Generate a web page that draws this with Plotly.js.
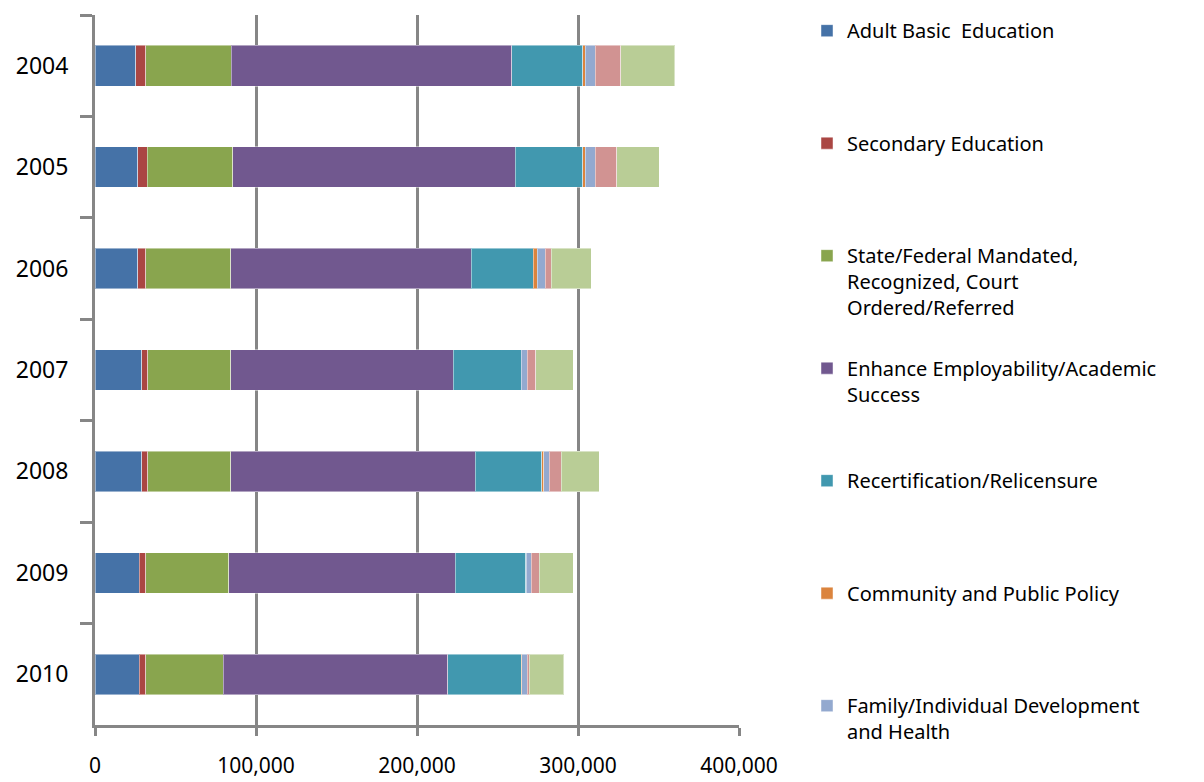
<!DOCTYPE html>
<html>
<head>
<meta charset="utf-8">
<script src="https://cdn.plot.ly/plotly-3.0.1.min.js"></script>
<style>html,body{margin:0;padding:0;background:#fff;}#chart{width:1204px;height:782px;}</style>
</head>
<body>
<div id="chart"></div>
<script>
const years = ["2004","2005","2006","2007","2008","2009","2010"];
const seriesNames = [
  "Adult Basic  Education",
  "Secondary Education",
  "State/Federal Mandated,<br>Recognized, Court<br>Ordered/Referred",
  "Enhance Employability/Academic<br>Success",
  "Recertification/Relicensure",
  "Community and Public Policy",
  "Family/Individual Development<br>and Health",
  "Personal Enrichment",
  "Other"
];
const seriesColors = ["#4572A7","#AA4643","#89A54E","#71588F","#4198AF","#DB843D","#93A9CF","#D19392","#B9CD96"];
const adultBasic     = [25200, 26400, 26400, 29000, 29000, 27600, 27600];
const secondary      = [6400, 6100, 5000, 3800, 3800, 3800, 3800];
const stateFederal   = [53000, 53200, 52900, 51500, 51500, 51700, 48200];
const enhance        = [174100, 175300, 149400, 138300, 152000, 140700, 139400];
const recert         = [44400, 42100, 38500, 42000, 41100, 43700, 45600];
const community      = [1400, 1400, 2400, 300, 1200, 500, 500];
const family         = [6200, 6200, 5200, 3700, 3600, 3000, 3300];
const enrichment     = [15900, 13500, 3600, 5000, 7300, 4800, 1400];
const other          = [33500, 26200, 24700, 23300, 23800, 21100, 21200];
const allSeries = [adultBasic, secondary, stateFederal, enhance, recert, community, family, enrichment, other];
const xTicks = [0, 100000, 200000, 300000, 400000];

function padLines(name){
  const n = name.split("<br>").length;
  let s = name;
  for (let i = n; i < 3; i++) s += "<br> ";
  return s;
}

const traces = allSeries.map((vals, i) => ({
  type: "bar",
  orientation: "h",
  y: years,
  x: vals,
  name: padLines(seriesNames[i]),
  legendgroup: "g" + i,
  showlegend: i < 7,
  marker: {color: seriesColors[i], line: {color: "rgba(255,255,255,0.45)", width: 1}},
  hovertemplate: seriesNames[i].replace(/<br>/g, " ") + ": %{x:,}<extra>%{y}</extra>"
}));

const gray = "#868686";
const layout = {
  width: 1204, height: 782,
  margin: {l: 95, r: 465, t: 14, b: 57},
  paper_bgcolor: "#ffffff", plot_bgcolor: "#ffffff",
  font: {family: "Noto Sans, sans-serif", color: "#000000"},
  barmode: "stack",
  bargap: 0.6,
  showlegend: true,
  legend: {
    x: 1.1056, xanchor: "left", y: 1.004, yanchor: "top",
    traceorder: "grouped", tracegroupgap: 31.5, valign: "top",
    maxheight: 900,
    font: {size: 20, family: "Noto Sans, sans-serif", color: "#000"},
    bgcolor: "rgba(0,0,0,0)"
  },
  xaxis: {
    range: [0, 400000], tickvals: xTicks, tickformat: ",",
    showgrid: true, gridcolor: gray, gridwidth: 3, zeroline: false,
    showline: true, linecolor: gray, linewidth: 3,
    ticks: "outside", ticklen: 8, tickwidth: 3, tickcolor: gray,
    ticklabelstandoff: 12,
    tickfont: {size: 21, family: "Noto Sans, sans-serif", color: "#000"},
    fixedrange: true
  },
  yaxis: {
    type: "category", categoryorder: "array", categoryarray: years,
    autorange: "reversed",
    showgrid: false, zeroline: false,
    showline: true, linecolor: gray, linewidth: 3,
    ticks: "outside", tickson: "boundaries", ticklen: 12, tickwidth: 3, tickcolor: gray,
    ticklabelstandoff: 19,
    tickfont: {size: 23, family: "Noto Sans, sans-serif", color: "#000"},
    fixedrange: true
  }
};

Plotly.newPlot("chart", traces, layout, {displayModeBar: false});
</script>
</body>
</html>
